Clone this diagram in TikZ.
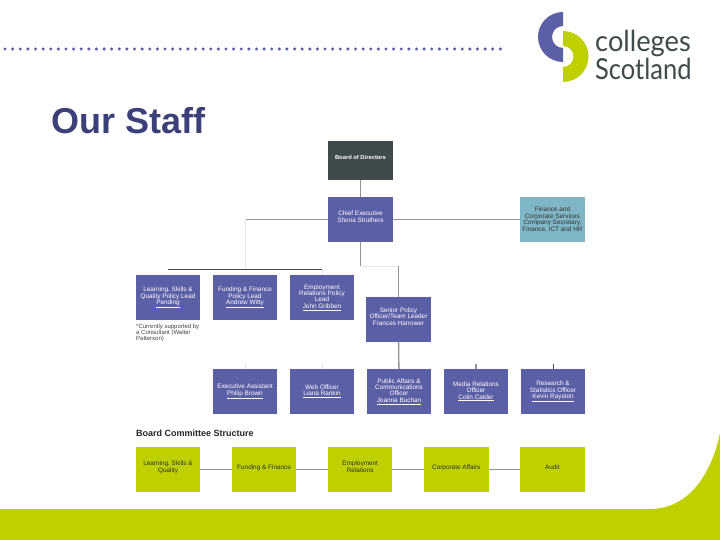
\documentclass[tikz,border=0pt]{standalone}
\usepackage{fontspec}
\setmainfont{Liberation Sans}
\newfontfamily\logofont{Lato}
\usepackage{xcolor}
\usetikzlibrary{positioning}
\definecolor{staffblue}{HTML}{5B5FA5}
\definecolor{titleblue}{HTML}{3B4079}
\definecolor{boardgrey}{HTML}{3F4A4B}
\definecolor{financeteal}{HTML}{7FB6C6}
\definecolor{limegreen}{HTML}{BED000}

\begin{document}
\begin{tikzpicture}[
  x=1pt, y=-1pt,
  node distance=12.5pt,
  box/.style={minimum width=64.5pt, minimum height=45pt, inner sep=1pt, outer sep=0pt, align=center,
    font=\fontsize{6.4}{6.4}\selectfont},
  staff/.style={box, fill=staffblue, text=white},
  committee/.style={box, fill=limegreen, text=black!80},
  logotext/.style={anchor=base west, inner sep=0pt, text=boardgrey, font=\logofont\fontsize{29}{29}\selectfont},
  link/.style={draw=black!42, line width=1.4pt},
  faint/.style={draw=black!10, line width=0.7pt},
  darkline/.style={draw=black!70, line width=1pt}
]
\useasboundingbox (0,0) rectangle (720,540);

% Background
\fill[limegreen] (0,509) -- (650,509) .. controls (690,509) and (712,472) .. (720,433)
  -- (720,540) -- (0,540) -- cycle;
\draw[staffblue, line width=3.4pt, line cap=round, dash pattern=on 0pt off 7.62pt] (5,49) -- (501,49);

% Logo
\fill[staffblue] (563,12) arc[start angle=90, end angle=270, radius=25pt]
  -- (563,48) arc[start angle=270, end angle=90, radius=11pt] -- cycle;
\fill[limegreen] (563,31) arc[start angle=90, end angle=-90, radius=25.5pt]
  -- (563,67) arc[start angle=-90, end angle=90, radius=10.5pt] -- cycle;
\node[logotext, xscale=0.94] (logoa) at (595,52) {colleges};
\node[logotext, xscale=0.88] (logob) at (595,80) {Scotland};

% Title
\node[anchor=base west, inner sep=0pt, text=titleblue, font=\bfseries\fontsize{36}{36}\selectfont] (title) at (51,134) {Our Staff};

% Nodes
\node[box, fill=boardgrey, text=white, minimum height=39pt, font=\bfseries\fontsize{5.8}{6.4}\selectfont] (board) at (360.5,160.5) {Board of Directors\\[-1pt]};
\node[staff] (ceo) at (360.5,219.5) {Chief Executive\\Shona Struthers\\[-1pt]};
\node[box, fill=financeteal, text=black!80] (finance) at (552.5,219.5) {Finance and\\Corporate Services\\Company Secretary,\\Finance, ICT and HR};

\node[staff] (learning) at (168,297.5) {Learning, Skills \&\\Quality Policy Lead\\\underline{Pending}};
\node[staff, right=of learning] (funding) {Funding \& Finance\\Policy Lead\\\underline{Andrew Witty}};
\node[staff, right=of funding] (employment) {Employment\\Relations Policy\\Lead\\\underline{John Gribben}};
\node[staff] (senior) at (398.5,319) {Senior Policy\\Officer/Team Leader\\Frances Harrower\\[-1pt]};

\node[anchor=north west, inner sep=0pt, align=left, text=black!75, font=\fontsize{6}{6.4}\selectfont] (note) at (136,323.5) {*Currently supported by\\a Consultant (Walter\\Patterson)};

\node[staff] (exec) at (245,391.5) {Executive Assistant\\\underline{Philip Brown}};
\node[staff, right=of exec] (web) {Web Officer\\\underline{Liana Rankin}};
\node[staff, right=of web] (public) {Public Affairs \&\\Communications\\Officer\\\underline{Joanna Buchan}};
\node[staff, right=of public] (media) {Media Relations\\Officer\\\underline{Colin Calder}};
\node[staff, right=of media] (research) {Research \&\\Statistics Officer\\\underline{Kevin Rayston}};

\node[anchor=base west, inner sep=0pt, text=black!85, font=\bfseries\fontsize{9}{9}\selectfont] (heading) at (136,436) {Board Committee Structure};

\node[committee] (c1) at (168,469.5) {Learning, Skills \&\\Quality\\[-1pt]};
\node[committee, right=31.6pt of c1] (c2) {Funding \& Finance\\[-1pt]};
\node[committee, right=31.6pt of c2] (c3) {Employment\\Relations\\[-1pt]};
\node[committee, right=31.6pt of c3] (c4) {Corporate Affairs\\[-1pt]};
\node[committee, right=31.6pt of c4] (c5) {Audit\\[-1pt]};

% Free ends
\coordinate (ltee) at (245,219.5);
\coordinate (lrail) at (245,269);
\coordinate (rail1) at (168,269);
\coordinate (rail2) at (322,269);
\coordinate (cdrop) at (360.5,266);
\coordinate (sdrop) at (398.5,266);
\coordinate (stub1) at (245,365);
\coordinate (stub2) at (322,365);
\coordinate (stub3) at (476,364);
\coordinate (stub4) at (553,364);

% Pointers
\draw[link] (board) -- (ceo);
\draw[link] (ceo) -- (finance);
\draw[link] (ceo) -- (ltee);
\draw[faint] (ltee) -- (lrail);
\draw[darkline] (rail1) -- (rail2);
\draw[faint] (rail2) -- (employment);
\draw[link] (ceo) -- (cdrop);
\draw[faint] (cdrop) -- (sdrop);
\draw[link] (sdrop) -- (senior);
\draw[link] (senior) -- (public);
\draw[faint] (stub1) -- (exec);
\draw[faint] (stub2) -- (web);
\draw[link] (stub3) -- (media);
\draw[darkline] (stub4) -- (research);
\foreach \a/\b in {c1/c2, c2/c3, c3/c4, c4/c5}
  \draw[link] (\a) -- (\b);
\end{tikzpicture}
\end{document}
